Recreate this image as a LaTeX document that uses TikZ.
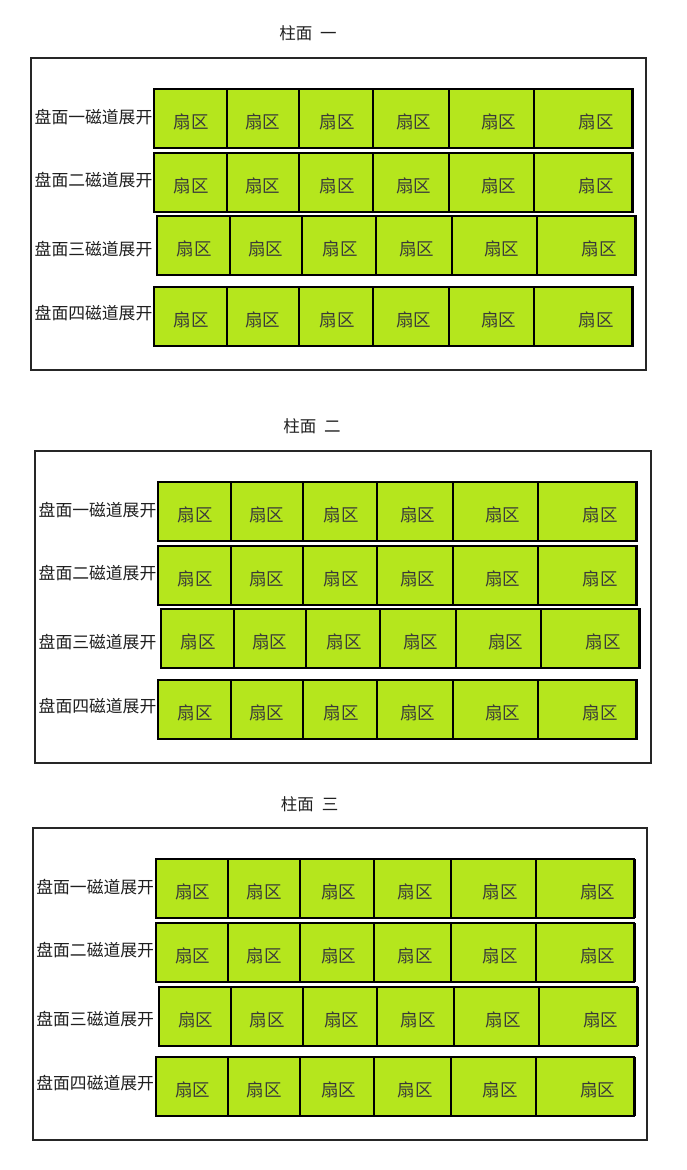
\documentclass[tikz,border=0pt]{standalone}
\usepackage{fontspec}
\newfontfamily\cjk{Noto Sans CJK SC}
\definecolor{sector}{HTML}{B5E61D}
\definecolor{sectorink}{HTML}{3A3A3A}
\tikzset{
  panelbox/.style={draw=black!85, line width=2pt, inner sep=0pt, outer sep=0pt, anchor=north west},
  cellbox/.style={draw=black, line width=2pt, fill=sector, inner sep=0pt, outer sep=0pt, anchor=north west, minimum height=59pt},
  rightedge/.style={line width=3.2pt, draw=black},
  sectortext/.style={font=\cjk\fontsize{17.5}{17.5}\selectfont, text=sectorink, inner sep=0pt},
  tracklabel/.style={font=\cjk\fontsize{16.8}{17}\selectfont, text=black!88, anchor=east, inner sep=0pt},
  paneltitle/.style={font=\cjk\fontsize{16.5}{16.5}\selectfont, text=black!88, inner sep=0pt},
}
% #1 = left x, #2 = top y, #3 = width, #4 = id, #5 = title
\newcommand{\drawdiskpanel}[5]{%
  \node[panelbox, minimum width=#3pt, minimum height=312pt] (p#4) at (#1,#2) {};
  \node[paneltitle] (p#4title) at (#1+277,#2-24) {柱面\hspace{8pt}#5};
  \foreach \r/\ty/\ly/\dx/\lab in {1/31/59.3/0/一, 2/95.3/122/0/二, 3/158.6/191/3/三, 4/229.3/255.3/0/四}{
    \node[tracklabel] (p#4lab\r) at (#1+121.5,#2+\ly) {盘面\lab 磁道展开};
    \foreach \c/\a/\b/\t in {1/0/72.4/36.7, 2/72.4/144.4/108.4, 3/144.4/218.4/182.7, 4/218.4/295/259.4, 5/295/380/344.4, 6/380/478.4/441.7}{
      \node[cellbox, minimum width={(\b-\a)*1pt}] (p#4r\r c\c) at (#1+123.3+\dx+\a,#2+\ty) {};
      \node[sectortext] (p#4r\r t\c) at (#1+123.3+\dx+\t,#2+\ty+33) {扇区};
    }
    \draw[rightedge] (p#4r\r c6.north east) -- (p#4r\r c6.south east);
  }
}
\begin{document}
\begin{tikzpicture}[x=1pt,y=-1pt]
\useasboundingbox (0,0) rectangle (686,1170);
\fill[white] (0,0) rectangle (686,1170);
\drawdiskpanel{31}{57.7}{614.7}{1}{一}
\drawdiskpanel{35}{450.7}{616}{2}{二}
\drawdiskpanel{32.7}{828}{614.5}{3}{三}
\end{tikzpicture}
\end{document}
